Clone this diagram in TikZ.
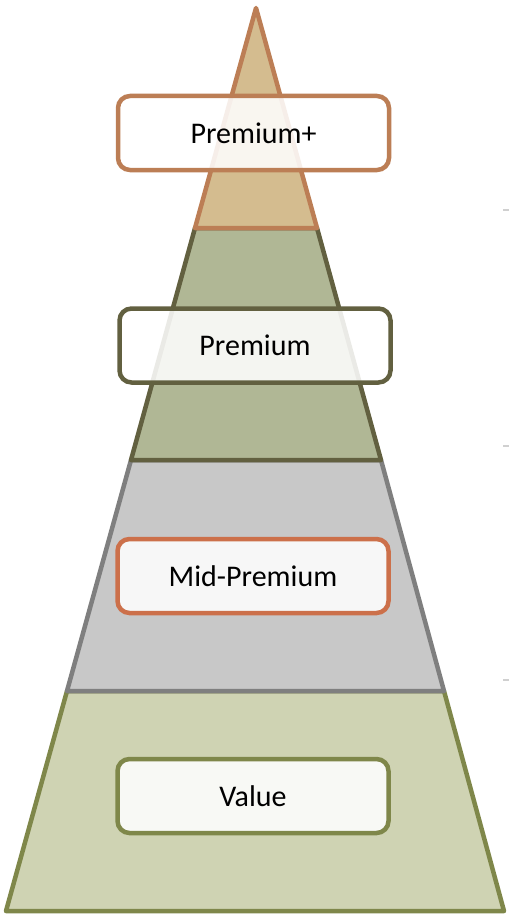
\documentclass[tikz,border=0pt]{standalone}
\usepackage{fontspec}
\setmainfont{Carlito}
\definecolor{tanfill}{HTML}{D4BC8F}
\definecolor{tanline}{HTML}{BC7E55}
\definecolor{olivefill}{HTML}{B0B795}
\definecolor{oliveline}{HTML}{626040}
\definecolor{grayfill}{HTML}{C8C8C8}
\definecolor{grayline}{HTML}{7F7F7F}
\definecolor{valfill}{HTML}{CFD3B3}
\definecolor{valline}{HTML}{7F874A}
\definecolor{midline}{HTML}{CC704A}
\definecolor{tickgray}{HTML}{D0D0D0}
\tikzset{
  tier/.style={line width=4.5pt, line join=round},
  label/.style={draw, line width=4.5pt, rounded corners=12pt, fill=white, fill opacity=0.87, text opacity=1,
    minimum width=271pt, minimum height=74pt, inner sep=0pt, font=\fontsize{30}{36}\selectfont, text=black},
  tick/.style={draw=tickgray, line width=2pt}
}
\begin{document}
\begin{tikzpicture}[x=1pt,y=-1pt]
\useasboundingbox (0,0) rectangle (509,915);
% tiers, bottom to top
\draw[tier, fill=valfill, draw=valline] (67,691) -- (444,691) -- (504,911) -- (6,911) -- cycle;
\draw[tier, fill=grayfill, draw=grayline] (131,460) -- (381,460) -- (444,691) -- (67,691) -- cycle;
\draw[tier, fill=olivefill, draw=oliveline] (195,228) -- (317,228) -- (381,460) -- (131,460) -- cycle;
\draw[tier, fill=tanfill, draw=tanline] (256,8) -- (317,228) -- (195,228) -- cycle;
% labels
\node[label, draw=tanline] (pplus) at (253.5,133) {Premium+};
\node[label, draw=oliveline] (prem) at (255,345.5) {Premium};
\node[label, draw=midline] (mid) at (253,576) {Mid-Premium};
\node[label, draw=valline] (val) at (253,796) {Value};
% small ticks at the right edge
\coordinate (t1a) at (503,210); \coordinate (t1b) at (509,210);
\coordinate (t2a) at (503,446); \coordinate (t2b) at (509,446);
\coordinate (t3a) at (503,680); \coordinate (t3b) at (509,680);
\draw[tick] (t1a) -- (t1b);
\draw[tick] (t2a) -- (t2b);
\draw[tick] (t3a) -- (t3b);
\end{tikzpicture}
\end{document}
